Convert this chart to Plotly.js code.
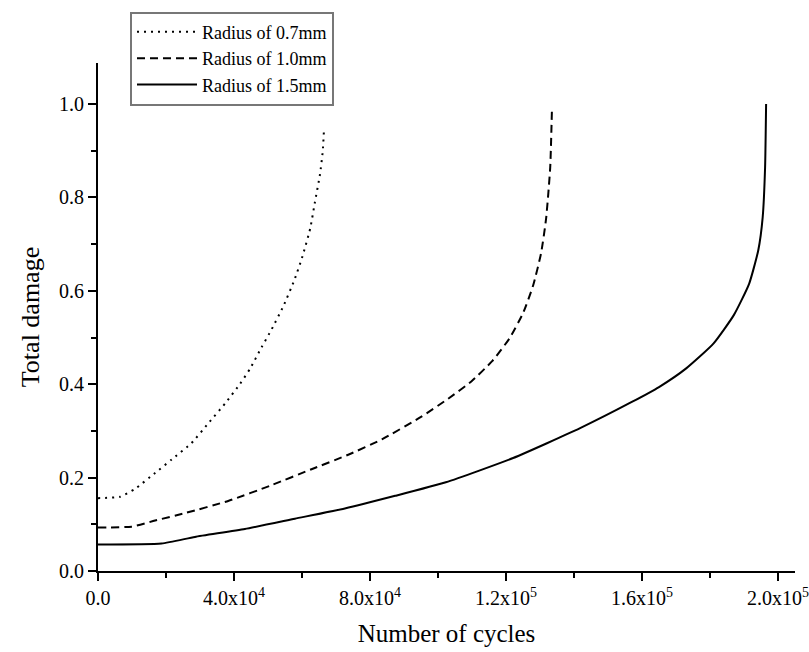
<!DOCTYPE html>
<html>
<head>
<meta charset="utf-8">
<script src="https://cdn.plot.ly/plotly-3.0.1.min.js"></script>
<style>html,body{margin:0;padding:0;background:#fff;}#chart{width:809px;height:652px;}</style>
</head>
<body>
<div id="chart"></div>
<script>
// Radius 0.7 mm (dotted)
const cycles07 = [0, 6500, 10900, 16800, 21700, 27500, 32400, 37400, 41800, 44700, 48100, 51100, 54500, 57800, 60100, 62400, 63800, 65300, 66100, 66500];
const damage07 = [0.156, 0.159, 0.176, 0.210, 0.239, 0.274, 0.316, 0.359, 0.401, 0.433, 0.479, 0.518, 0.567, 0.624, 0.673, 0.733, 0.790, 0.850, 0.899, 0.950];
// Radius 1.0 mm (dashed)
const cycles10 = [0, 9900, 16800, 25600, 38300, 51100, 62800, 73600, 83500, 95000, 103000, 109800, 116000, 121000, 125000, 128000, 130300, 131800, 133000, 133500];
const damage10 = [0.093, 0.095, 0.108, 0.124, 0.150, 0.184, 0.218, 0.249, 0.282, 0.330, 0.369, 0.406, 0.450, 0.498, 0.552, 0.612, 0.680, 0.755, 0.864, 0.985];
// Radius 1.5 mm (solid)
const cycles15 = [0, 18700, 28500, 43200, 57900, 72600, 87400, 102300, 122100, 141800, 157000, 165000, 173000, 181000, 187000, 191500, 194200, 195500, 196200, 196500];
const damage15 = [0.057, 0.059, 0.073, 0.090, 0.112, 0.134, 0.161, 0.190, 0.242, 0.306, 0.362, 0.394, 0.434, 0.487, 0.548, 0.615, 0.687, 0.758, 0.864, 1.000];

const seriesNames = ["Radius of 0.7mm", "Radius of 1.0mm", "Radius of 1.5mm"];
const xTickVals = [0, 40000, 80000, 120000, 160000, 200000];
const xTickText = ["0.0", "4.0x10<sup>4</sup>", "8.0x10<sup>4</sup>", "1.2x10<sup>5</sup>", "1.6x10<sup>5</sup>", "2.0x10<sup>5</sup>"];
const yTickVals = [0, 0.2, 0.4, 0.6, 0.8, 1.0];
const yTickText = ["0.0", "0.2", "0.4", "0.6", "0.8", "1.0"];

const font = "Liberation Serif, Times New Roman, serif";

const traces = [
  {x: cycles07, y: damage07, name: seriesNames[0], mode: "lines", line: {color: "#000", width: 2, dash: "2px,5px", shape: "spline", smoothing: 0.5}},
  {x: cycles10, y: damage10, name: seriesNames[1], mode: "lines", line: {color: "#000", width: 2, dash: "8px,5px", shape: "spline", smoothing: 0.5}},
  {x: cycles15, y: damage15, name: seriesNames[2], mode: "lines", line: {color: "#000", width: 2, shape: "spline", smoothing: 0.5}}
];

const layout = {
  width: 809, height: 652,
  margin: {l: 98, r: 14, t: 57, b: 81},
  paper_bgcolor: "#fff", plot_bgcolor: "#fff",
  font: {family: font, color: "#000", size: 20},
  showlegend: true,
  legend: {
    x: (130 - 98) / 697, y: 1 + (57 - 5) / 514, xanchor: "left", yanchor: "top",
    bordercolor: "#777", borderwidth: 2, bgcolor: "#fff",
    font: {family: font, size: 18, color: "#000"},
    tracegroupgap: 0, itemwidth: 60
  },
  xaxis: {
    range: [0, 205000], showgrid: false, zeroline: false,
    showline: true, linecolor: "#000", linewidth: 2,
    ticks: "outside", ticklen: 8, tickwidth: 2, tickcolor: "#000",
    tickvals: xTickVals, ticktext: xTickText,
    tickfont: {family: font, size: 20},
    ticklabeloverflow: "allow",
    minor: {ticks: "outside", ticklen: 5, tickwidth: 2, tickcolor: "#000", dtick: 20000, tick0: 0},
    title: {text: "Number of cycles", font: {family: font, size: 25}, standoff: 16}
  },
  yaxis: {
    range: [0, 1.088], showgrid: false, zeroline: false,
    showline: true, linecolor: "#000", linewidth: 2,
    ticks: "outside", ticklen: 8, tickwidth: 2, tickcolor: "#000",
    tickvals: yTickVals, ticktext: yTickText,
    tickfont: {family: font, size: 20},
    minor: {ticks: "outside", ticklen: 5, tickwidth: 2, tickcolor: "#000", dtick: 0.1, tick0: 0},
    title: {text: "Total damage", font: {family: font, size: 26}, standoff: 12}
  }
};

Plotly.newPlot("chart", traces, layout, {displayModeBar: false, staticPlot: true});
</script>
</body>
</html>
